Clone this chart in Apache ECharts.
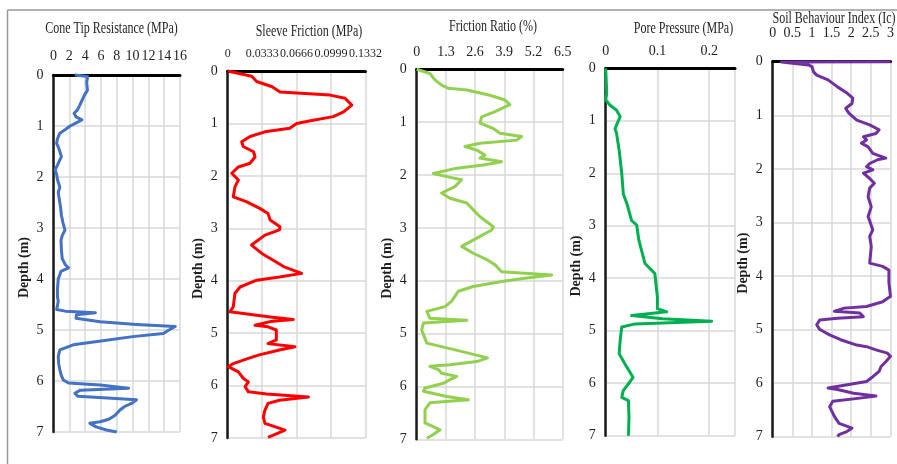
<!DOCTYPE html>
<html>
<head>
<meta charset="utf-8">
<script src="https://cdn.jsdelivr.net/npm/echarts@6/dist/echarts.min.js"></script>
<style>html,body{margin:0;padding:0;background:#fff}#c{width:897px;height:464px}</style>
</head>
<body>
<div id="c"></div>
<script>
// ---- Data (depth in m) ----
const depthTicks = [0, 1, 2, 3, 4, 5, 6, 7];

const coneDepth = [0,0.03,0.15,0.3,0.4,0.5,0.6,0.69,0.75,0.82,0.88,0.93,1.0,1.07,1.14,1.25,1.34,1.45,1.6,1.7,1.8,1.86,1.95,2.05,2.2,2.3,2.4,2.5,2.6,2.75,2.9,3.04,3.15,3.24,3.43,3.6,3.72,3.78,3.85,4.0,4.2,4.35,4.43,4.52,4.6,4.63,4.66,4.7,4.77,4.84,4.89,4.93,5.0,5.07,5.13,5.2,5.29,5.39,5.52,5.65,5.78,5.9,5.98,6.04,6.08,6.14,6.18,6.24,6.3,6.37,6.43,6.5,6.57,6.67,6.75,6.8,6.83,6.9,6.96,7.0];
const coneQc = [2.7,4.3,4.2,4.3,3.9,3.6,3.3,3.0,2.6,2.85,3.6,3.0,2.1,1.5,0.8,0.5,0.4,0.7,1.0,0.7,0.4,0.2,0.4,0.5,0.8,0.6,0.7,0.8,0.9,1.0,1.2,1.45,1.1,0.95,1.0,1.1,1.5,1.9,0.95,0.6,0.5,0.5,0.6,0.5,0.4,1.5,5.3,2.9,2.85,5.9,10.5,15.4,14.6,13.9,10.0,6.7,2.5,0.8,0.6,0.65,0.8,1.0,1.25,1.9,5.9,9.5,3.4,2.7,3.1,10.5,10.0,9.0,8.4,7.8,7.0,5.9,4.6,5.4,6.7,8.0];

const sleeveDepth = [0,0.1,0.2,0.3,0.4,0.46,0.52,0.65,0.78,0.87,0.95,1.0,1.09,1.16,1.25,1.35,1.44,1.54,1.64,1.76,1.83,1.95,2.08,2.21,2.4,2.49,2.62,2.72,2.84,2.97,3.03,3.13,3.32,3.48,3.61,3.73,3.86,3.93,3.99,4.12,4.24,4.5,4.59,4.69,4.74,4.78,4.85,4.88,4.94,5.13,5.2,5.26,5.32,5.42,5.48,5.58,5.64,5.74,5.86,5.93,6.02,6.12,6.16,6.22,6.28,6.34,6.47,6.6,6.72,6.85,6.92,6.99];
const sleeveFs = [0,0.0232,0.028,0.043,0.0506,0.099,0.1134,0.12,0.112,0.102,0.08,0.0667,0.06,0.036,0.0216,0.0135,0.015,0.025,0.0264,0.0216,0.0103,0.0039,0.0103,0.007,0.0054,0.018,0.031,0.039,0.041,0.0506,0.05,0.036,0.023,0.033,0.044,0.054,0.0715,0.05,0.028,0.012,0.007,0.0054,0.0022,0.041,0.0634,0.041,0.0264,0.039,0.047,0.047,0.039,0.065,0.05,0.0296,0.02,0.0054,0.0006,0.0103,0.015,0.02,0.0168,0.02,0.0377,0.078,0.05,0.039,0.036,0.0344,0.036,0.0554,0.047,0.039];

const ratioDepth = [0,0.08,0.2,0.3,0.36,0.39,0.49,0.58,0.67,0.8,0.9,1.02,1.12,1.21,1.27,1.34,1.4,1.46,1.53,1.62,1.68,1.75,1.81,1.87,1.97,2.03,2.09,2.22,2.34,2.44,2.53,2.66,2.79,2.98,3.04,3.16,3.35,3.48,3.6,3.7,3.83,3.89,3.95,4.01,4.11,4.2,4.39,4.49,4.58,4.71,4.75,4.8,4.93,5.18,5.27,5.37,5.46,5.53,5.59,5.62,5.68,5.75,5.81,5.87,5.94,6.03,6.09,6.19,6.25,6.31,6.44,6.69,6.82,6.91,6.98];
const ratioRf = [0,0.59,0.81,1.11,1.41,2.23,3.26,3.93,4.15,3.49,2.89,2.82,3.41,3.71,4.67,4.45,2.82,2.15,2.67,3.04,2.82,3.78,2.97,1.78,0.74,1.34,2.0,1.7,1.11,1.48,2.23,2.52,2.82,3.41,3.34,2.82,2.0,2.52,3.12,3.49,3.78,6.01,4.9,3.86,2.52,1.85,1.55,1.26,0.45,0.59,2.23,0.3,0.22,0.45,1.34,2.3,3.15,2.67,1.48,0.59,0.96,1.11,1.78,1.48,1.19,0.37,0.3,1.34,2.3,0.59,0.37,0.37,1.04,0.74,0.45];

const poreDepth = [0,0.48,0.6,0.7,0.8,0.92,1.15,1.24,1.56,2.0,2.39,2.58,2.9,2.99,3.27,3.72,3.91,4.36,4.58,4.64,4.71,4.77,4.82,4.87,4.93,5.18,5.44,5.63,5.89,6.01,6.14,6.27,6.33,6.65,7.0];
const poreU = [0,0.002,0,0.008,0.021,0.028,0.018,0.021,0.026,0.031,0.034,0.041,0.05,0.06,0.064,0.076,0.095,0.1,0.1,0.118,0.05,0.11,0.205,0.057,0.031,0.028,0.026,0.037,0.053,0.044,0.034,0.031,0.044,0.045,0.044];

const icDepth = [0,0.005,0.06,0.09,0.19,0.25,0.34,0.47,0.59,0.68,0.78,0.87,0.96,1.09,1.18,1.27,1.34,1.4,1.46,1.52,1.59,1.71,1.8,1.83,1.9,1.96,2.02,2.08,2.18,2.27,2.36,2.52,2.71,2.89,3.14,3.26,3.45,3.76,3.82,3.89,4.13,4.38,4.48,4.57,4.6,4.66,4.69,4.76,4.79,4.82,4.91,5.0,5.1,5.19,5.29,5.32,5.38,5.44,5.5,5.6,5.69,5.78,5.88,5.97,6.03,6.09,6.12,6.19,6.24,6.28,6.34,6.44,6.62,6.75,6.84,6.9,6.96,7.0];
const icValue = [3.0,0.22,0.91,1.0,1.04,1.12,1.41,1.65,1.9,2.04,2.02,1.86,1.94,2.14,2.47,2.71,2.63,2.31,2.39,2.26,2.43,2.55,2.88,2.67,2.47,2.39,2.55,2.31,2.47,2.59,2.47,2.43,2.51,2.43,2.55,2.47,2.51,2.47,2.8,2.96,2.96,3.0,2.8,2.39,1.82,1.57,2.22,2.31,1.65,1.2,1.12,1.2,1.45,1.73,2.14,2.39,2.63,2.92,3.0,2.88,2.76,2.71,2.55,2.39,1.9,1.41,1.65,2.06,2.63,2.22,1.53,1.45,1.57,1.69,2.02,1.9,1.69,1.65];

const panelTitles = ['Cone Tip Resistance (MPa)','Sleeve Friction (MPa)','Friction Ratio (%)','Pore Pressure (MPa)','Soil Behaviour Index (Ic)'];
const xMins = [0, 0, 0, 0, 0];
const xMaxs = [16, 0.1332, 6.5, 0.25, 3];
const xIntervals = [2, 0.0333, 1.3, 0.1, 0.5];
const seriesColors = ['#4472C4', '#FF0000', '#92D050', '#00B050', '#7030A0'];

// ---- Layout ----
const grids = [
  {left: 53.5, top: 75, width: 126.5, height: 357},
  {left: 227.7, top: 71, width: 137.8, height: 367},
  {left: 416.7, top: 69.3, width: 146, height: 370},
  {left: 605.7, top: 68.3, width: 129.3, height: 367.4},
  {left: 772.7, top: 61.7, width: 122.3, height: 375}
];
const titlePos = [[111.5, 29], [309, 32], [493, 27], [683.5, 29], [834, 19]];
const xLabelMargins = [12, 11, 10, 10, 21];
const xLabelSizes = [14, 12, 14, 14, 14];
const nameGaps = [22, 22, 22, 22, 22];

const FONT = '"Liberation Serif", "Times New Roman", serif';
const TXT = '#1f1f1f';

const pairs = [
  [coneQc, coneDepth], [sleeveFs, sleeveDepth], [ratioRf, ratioDepth], [poreU, poreDepth], [icValue, icDepth]
];

function fmt(v) {
  if (Math.abs(v) < 1e-9) return '0';
  return String(+v.toFixed(4));
}

const option = {
  animation: false,
  backgroundColor: '#fff',
  grid: grids.map(g => Object.assign({containLabel: false}, g)),
  xAxis: grids.map((g, i) => ({
    gridIndex: i, type: 'value', position: 'top',
    min: xMins[i], max: xMaxs[i], interval: xIntervals[i],
    axisLine: {show: true, onZero: false, lineStyle: {color: '#000', width: 3}},
    axisTick: {show: false},
    splitLine: {show: true, lineStyle: {color: '#d9d9d9', width: 1.5}},
    axisLabel: {show: true, hideOverlap: false, margin: xLabelMargins[i], fontSize: xLabelSizes[i], fontFamily: FONT, color: TXT,
      showMaxLabel: i === 3 ? false : true, formatter: fmt}
  })),
  yAxis: grids.map((g, i) => ({
    gridIndex: i, type: 'value', inverse: true,
    min: 0, max: 7, interval: 1,
    axisLine: {show: true, onZero: false, lineStyle: {color: '#1a1a1a', width: 2.5}},
    axisTick: {show: false},
    splitLine: {show: true, lineStyle: {color: '#d9d9d9', width: 1.5}},
    axisLabel: {margin: 10, fontSize: 14, fontFamily: FONT, color: TXT, formatter: v => String(depthTicks[Math.round(v)])},
    name: 'Depth (m)', nameLocation: 'middle', nameRotate: 90, nameGap: nameGaps[i],
    nameTextStyle: {fontFamily: FONT, fontSize: 14, fontWeight: 'bold', color: TXT, padding: [0, 28, 0, 0]}
  })),
  series: pairs.map((p, i) => ({
    type: 'line', xAxisIndex: i, yAxisIndex: i,
    data: p[0].map((v, k) => [v, p[1][k]]),
    showSymbol: false, symbol: 'none', clip: false, smooth: false,
    lineStyle: {color: seriesColors[i], width: 3, join: 'round'},
    z: 5
  })),
  graphic: [
    {type: 'line', shape: {x1: 7.5, y1: 10, x2: 897, y2: 10}, style: {stroke: '#999', lineWidth: 1.5}, silent: true},
    {type: 'line', shape: {x1: 7.5, y1: 10, x2: 7.5, y2: 464}, style: {stroke: '#999', lineWidth: 1.5}, silent: true}
  ].concat(panelTitles.map((t, i) => ({
    type: 'text', x: titlePos[i][0], y: titlePos[i][1], scaleX: 0.75, silent: true,
    style: {text: t, font: '16px ' + FONT, fill: TXT, align: 'center', verticalAlign: 'middle'}
  })))
};

const chart = echarts.init(document.getElementById('c'), null, {renderer: 'canvas'});
chart.setOption(option);
</script>
</body>
</html>
